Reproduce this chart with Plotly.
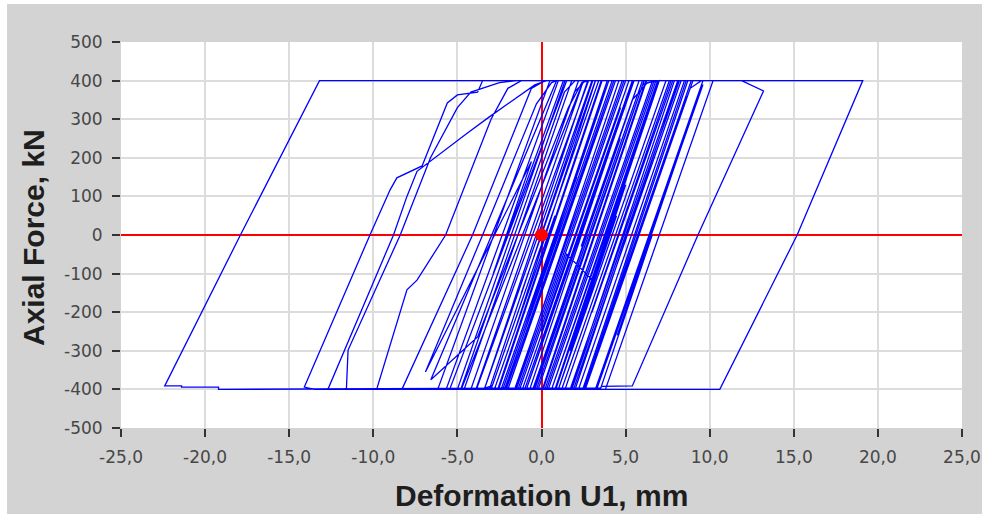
import plotly.graph_objects as go

# ---- data ----
deformation_mm = [
    0.00, 1.44, -1.20, 3.20, 4.30, -2.10, -3.00, 3.40, 5.20, 0.00,
    4.70, -1.14, -2.40, 1.20, -0.88, 4.00, 6.00, -0.40, -1.50,
    4.90, 11.90, 13.20, 9.30, 5.40, 3.60, 3.50, -19.20, -19.20, -21.40, -21.40, -22.40,
    -17.90, -13.20, 19.10, 15.20, 10.60, -13.50, -14.10,
    -10.20, -9.00, -8.60, -7.10, -5.60, -5.00, -3.80, -3.50, 2.50, -4.77,
    -12.70, -8.80, -8.00, -7.40, -4.40, -3.10, -0.40, 0.30, 1.50, -5.46,
    -11.60, -11.50, -8.40, -6.60, -5.00, -4.20, -2.50, -1.50, 1.00, -5.67,
    -9.80, -8.00, -7.40, -5.70, -3.00, -2.00, -1.20, 0.50, -6.17,
    -8.30, -4.10, -0.60, 0.20, 1.30, -2.87, -0.60, -6.90, -3.50, -0.30,
    0.60, 0.90, -6.58, -3.80, -1.40, 1.60, 2.40, 2.80,
    -3.87, -4.60, 1.80, 3.00, -3.40, -3.90, 2.50, 4.20, -2.20, -2.80,
    0.80, -1.60, 3.21, 5.50, -0.90, -1.60, 4.80, 6.80, 0.40, -0.50,
    2.70, 0.10, 1.30, -0.46, -1.00, 5.40, 7.40, 1.00, 0.30, 6.70,
    8.30, 4.30, 7.74, 1.90, 1.20, 7.60, 9.00, 2.60, 1.80, 8.20,
    9.60, 3.20, 2.60, 8.84, 9.50, 10.20, 3.80, 3.50,
    6.58, 4.50, 9.10, 9.60, 3.28, 2.20, 8.50, 8.90, 5.00, 8.60,
    2.52, 1.40, 7.70, 8.10, 1.70, 0.60, 6.90, 7.60, 1.20, -0.20,
    6.10, 6.60, 0.20, -0.90, 5.40, 5.80, 2.28, 4.68, -0.52, -2.00,
    4.30, 5.00, -1.40, -2.30, 2.10, -0.94,
    3.91, 4.60, -1.55, -2.60, 3.55, 4.00, 0.46, 2.92, -2.16, -3.40,
    2.75, 3.60, -2.55, -3.10, 3.05, 6.20, 0.05, -0.70, 5.45, 7.00,
    3.20, 6.47, 0.85, 0.10, 6.25, 7.90, 1.75, 0.80, 6.95, 8.60,
    2.45, 2.00, 8.15, 8.70, 3.93, 7.53, 2.53, 1.00, 4.46, 2.00,
    5.00, 1.70, 3.10, 1.50,
    -1.30, -4.20, -1.80, -3.64, 1.96, 2.60, 3.40, -2.92, -3.60, -5.00,
    1.40, 2.20, -4.20, -4.80, -1.60, -4.00, 1.36, 2.00, 5.00, 1.00,
    3.80, -1.40, -2.00, 4.40, 5.80, 2.36, 5.40, 6.30, 7.00, 0.60,
    -0.30, 2.10, 0.26, 6.02, 6.80, 7.80, 3.00, 6.52, 3.24, 5.52,
    3.00,
]
axial_force_kn = [
    0, 180, -150, 400, 400, -400, -400, 400, 400, -250,
    330, -400, -400, 50, -210, 400, 400, -400, -400,
    400, 400, 373, 0, -391, -392, -396, -400, -394, -394, -391, -391,
    0, 400, 400, 0, -400, -400, -394,
    0, 117, 148, 179, 342, 363, 370, 400, 400, -400,
    -400, 0, 100, 165, 264, 306, 389, 400, 400, -400,
    -400, -298, 0, 200, 330, 370, 395, 400, 400, -400,
    -400, -142, -117, 0, 300, 380, 400, 400, -400,
    -400, 0, 380, 400, 400, -100, 190, -355, 0, 340,
    395, 400, -375, -264, 0, 330, 395, 400,
    -400, -400, 400, 400, -400, -400, 400, 400, -400, -400,
    50, -250, 400, 400, -400, -400, 400, 400, -400, -400,
    0, -330, -180, -400, -400, 400, 400, -400, -400, 400,
    400, -100, 330, -400, -400, 400, 400, -400, -400, 400,
    400, -400, -400, 380, 400, 400, -400, -400,
    0, -260, 330, 390, -400, -400, 400, 400, -100, 360,
    -400, -400, 400, 400, -400, -400, 400, 400, -400, -400,
    400, 400, -400, -400, 400, 400, -50, 250, -400, -400,
    400, 400, -400, -400, 150, -230,
    400, 400, -400, -400, 400, 400, -60, 260, -400, -400,
    400, 400, -400, -400, 400, 400, -400, -400, 400, 400,
    -95, 330, -400, -400, 400, 400, -400, -400, 400, 400,
    -400, -400, 400, 400, -220, 250, -400, -400, 50, -270,
    130, -300, -120, -50,
    -400, -400, -100, -330, 370, 400, 400, -390, -400, -400,
    400, 400, -400, -400, 0, -300, 370, 400, 400, -100,
    250, -400, -400, 400, 400, -30, 350, 395, 400, -400,
    -400, -100, -330, 390, 400, 400, -200, 240, -170, 115,
    -200,
]
marker_x = [0.0]
marker_y = [0.0]

x_tick_values = [-25, -20, -15, -10, -5, 0, 5, 10, 15, 20, 25]
x_tick_labels = ["-25,0", "-20,0", "-15,0", "-10,0", "-5,0", "0,0",
                 "5,0", "10,0", "15,0", "20,0", "25,0"]
y_tick_values = [500, 400, 300, 200, 100, 0, -100, -200, -300, -400, -500]
y_tick_labels = ["500", "400", "300", "200", "100", "0",
                 "-100", "-200", "-300", "-400", "-500"]

# ---- figure ----
W, H = 982, 514
ML, MR, MT, MB = 121, 20, 42, 86
PW, PH = W - ML - MR, H - MT - MB


def px_x(p):
    return (p - ML) / PW


def px_y(p):
    return (H - MB - p) / PH


fig = go.Figure()
fig.add_trace(go.Scatter(
    x=deformation_mm, y=axial_force_kn, mode="lines",
    line=dict(color="#0000ff", width=1.3), hoverinfo="skip", showlegend=False,
))
fig.add_trace(go.Scatter(
    x=marker_x, y=marker_y, mode="markers",
    marker=dict(color="#ff0000", size=13), showlegend=False,
))

tick_font = dict(family="DejaVu Sans", size=17, color="#474747")
axis_common = dict(
    ticks="outside", ticklen=8, tickwidth=2, tickcolor="#333333",
    showgrid=True, gridcolor="#dcdcdc", gridwidth=2,
    zeroline=True, zerolinecolor="#ff0000", zerolinewidth=2,
    showline=False, tickfont=tick_font, fixedrange=True, automargin=False,
)
fig.update_xaxes(range=[-25, 25], tickmode="array", tickvals=x_tick_values,
                 ticktext=x_tick_labels, ticklabelstandoff=6, **axis_common)
fig.update_yaxes(range=[-500, 500], tickmode="array", tickvals=y_tick_values,
                 ticktext=y_tick_labels, ticklabelstandoff=6, **axis_common)

title_font = dict(family="Liberation Sans, Arial", size=30, color="#1e1e1e")
fig.update_layout(
    width=W, height=H, autosize=False,
    margin=dict(l=ML, r=MR, t=MT, b=MB, pad=0),
    paper_bgcolor="#d3d3d3", plot_bgcolor="#ffffff",
    showlegend=False,
    annotations=[
        dict(text="<b>Deformation U1, mm</b>", xref="paper", yref="paper",
             x=px_x(541), y=px_y(495), xanchor="center", yanchor="middle",
             showarrow=False, font=title_font),
        dict(text="<b>Axial Force, kN</b>", xref="paper", yref="paper",
             x=px_x(33), y=px_y(238), xanchor="center", yanchor="middle",
             textangle=-90, showarrow=False, font=title_font),
    ],
    shapes=[
        dict(type="rect", xref="paper", yref="paper", layer="above",
             x0=px_x(0), x1=px_x(7), y0=px_y(H), y1=px_y(0),
             fillcolor="#ffffff", line=dict(width=0)),
        dict(type="rect", xref="paper", yref="paper", layer="above",
             x0=px_x(0), x1=px_x(W), y0=px_y(4), y1=px_y(0),
             fillcolor="#ffffff", line=dict(width=0)),
    ],
)

fig.write_html(
    "out.html",
    config={"responsive": False, "displayModeBar": False},
    post_script=(
        "document.documentElement.style.overflow='hidden';"
        "document.body.style.margin='0';"
        "document.body.style.overflow='hidden';"
    ),
)
